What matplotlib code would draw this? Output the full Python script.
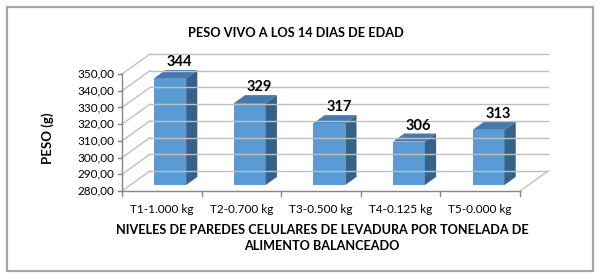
import matplotlib
matplotlib.use("Agg")
import matplotlib.pyplot as plt
from matplotlib.patches import Polygon, Rectangle
from matplotlib.lines import Line2D

categories = ["T1-1.000 kg", "T2-0.700 kg", "T3-0.500 kg", "T4-0.125 kg", "T5-0.000 kg"]
values = [344, 329, 317, 306, 313]
value_labels = ["344", "329", "317", "306", "313"]
yticks = [280, 290, 300, 310, 320, 330, 340, 350]
ytick_labels = ["280,00", "290,00", "300,00", "310,00", "320,00", "330,00", "340,00", "350,00"]
title = "PESO VIVO A LOS 14 DIAS DE EDAD"
ylabel = "PESO (g)"
xlabel = "NIVELES DE PAREDES CELULARES DE LEVADURA POR TONELADA DE\nALIMENTO BALANCEADO"

plt.rcParams['font.family'] = ['Lato', 'DejaVu Sans']

W, H = 600, 280
fig = plt.figure(figsize=(6, 2.8), dpi=100)

# outer chart border
fig.patches.append(Rectangle((6.5 / W, 1 - 271 / H), 586 / W, 264 / H, transform=fig.transFigure,
                             fill=False, edgecolor="#A6A6A6", linewidth=1.6))

# axes spans front-left (122,191) to back-right (548,54)
ax = fig.add_axes([122 / W, 1 - 191 / H, (548 - 122) / W, (191 - 54) / H])
ymin, ymax = 280, 350
DX, DY = 0.352, 12.0          # wall depth in data units
ax.set_xlim(-0.5, 4.5 + DX)
ax.set_ylim(ymin, ymax + DY)
ax.axis("off")

grid_c = "#BFBFBF"
axis_c = "#868686"

# back wall gridlines and left wall slants
for v in yticks:
    ax.add_line(Line2D([-0.5 + DX, 4.5 + DX], [v + DY, v + DY], color=grid_c, lw=1.0, clip_on=False))
    ax.add_line(Line2D([-0.5, -0.5 + DX], [v, v + DY], color=grid_c, lw=1.0, clip_on=False))
# floor right edge
ax.add_line(Line2D([4.5, 4.5 + DX], [ymin, ymin + DY], color=grid_c, lw=1.0, clip_on=False))
# front axes
ax.add_line(Line2D([-0.5, -0.5], [ymin, ymax], color=axis_c, lw=1.0, clip_on=False))
ax.add_line(Line2D([-0.5, 4.5], [ymin, ymin], color=axis_c, lw=1.0, clip_on=False))

# ticks
for k in range(len(categories) + 1):
    x = -0.5 + k
    ax.plot([x, x], [ymin, ymin - 3], color=axis_c, lw=1.0, clip_on=False)
for v, lab in zip(yticks, ytick_labels):
    ax.plot([-0.5, -0.55], [v, v], color=axis_c, lw=1.0, clip_on=False)
    ax.text(-0.6, v, lab, ha="right", va="center", fontsize=8.5, color="#000000")

# bars (pseudo-3D)
f0, f1 = 0.3, 0.7
bw = 0.4
front_c = "#5B9BD5"
side_c = "#38618A"
top_c = "#4679AD"
for i, (v, lab) in enumerate(zip(values, value_labels)):
    ox, oy = DX * f0, DY * f0
    dx, dy = DX * (f1 - f0), DY * (f1 - f0)
    x0, x1 = i - bw / 2 + ox, i + bw / 2 + ox
    y0, y1 = ymin + oy, v + oy
    ax.add_patch(Polygon([[x0, y0], [x1, y0], [x1, y1], [x0, y1]], closed=True,
                         facecolor=front_c, edgecolor="none", clip_on=False))
    ax.add_patch(Polygon([[x1, y0], [x1 + dx, y0 + dy], [x1 + dx, y1 + dy], [x1, y1]], closed=True,
                         facecolor=side_c, edgecolor="none", clip_on=False))
    ax.add_patch(Polygon([[x0, y1], [x1, y1], [x1 + dx, y1 + dy], [x0 + dx, y1 + dy]], closed=True,
                         facecolor=top_c, edgecolor="none", clip_on=False))
    ax.text(i + ox + dx / 2 + 0.05, y1 + dy + 0.6, lab, ha="center", va="bottom",
            fontsize=10.5, fontweight="bold", color="#000000", clip_on=False)
    ax.text(i, ymin - 11, categories[i], ha="center", va="center", fontsize=8.5, color="#000000")

fig.text(296 / W, 1 - 33 / H, title, ha="center", va="center", fontsize=9.2, fontweight="bold")
fig.text(48 / W, 1 - 138 / H, ylabel, ha="center", va="center", rotation=90, fontsize=9.5, fontweight="bold")
fig.text(322 / W, 1 - 238 / H, xlabel, ha="center", va="center", fontsize=9.1, fontweight="bold",
         linespacing=1.35)

fig.savefig("out.png", dpi=100, facecolor="white")
